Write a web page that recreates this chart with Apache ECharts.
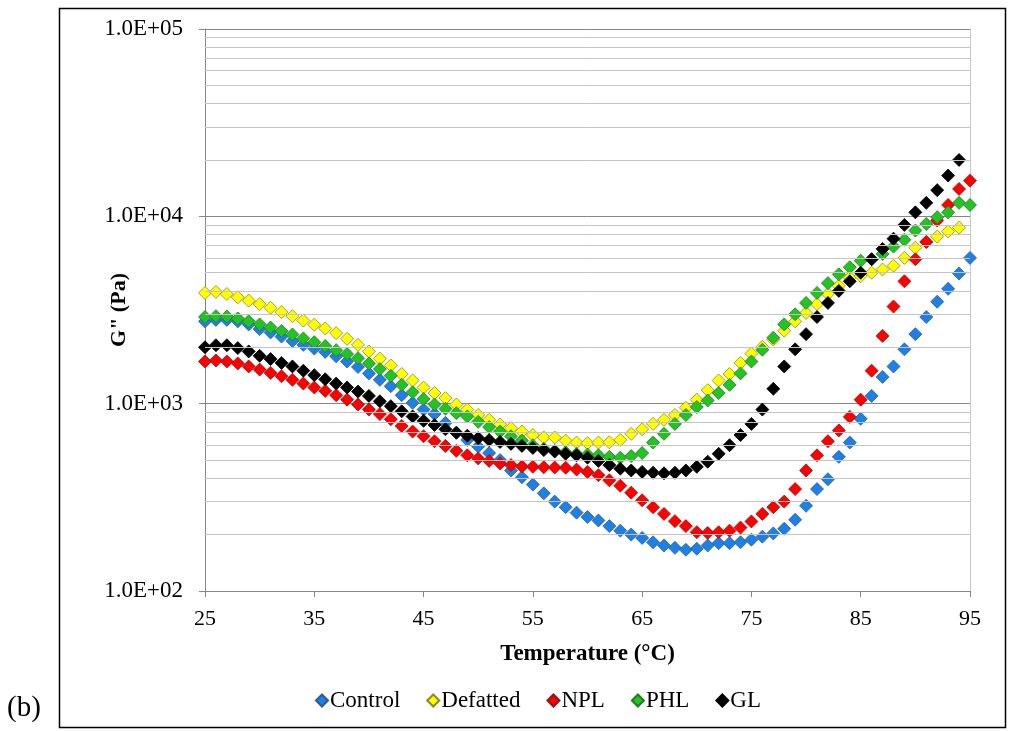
<!DOCTYPE html>
<html>
<head>
<meta charset="utf-8">
<script src="https://cdn.jsdelivr.net/npm/echarts@6/dist/echarts.min.js"></script>
<style>
html,body{margin:0;padding:0;background:#fff;}
#c{width:1009px;height:731px;}
</style>
</head>
<body>
<div id="c"></div>
<script>
// Temperature (°C) sample points shared by all series
const temps = [25,26,27,28,29,30,31,32,33,34,35,36,37,38,39,40,41,42,43,44,45,46,47,48,49,50,51,52,53,54,55,56,57,58,59,60,61,62,63,64,65,66,67,68,69,70,71,72,73,74,75,76,77,78,79,80,81,82,83,84,85,86,87,88,89,90,91,92,93,94,95];

const control = [2750,2800,2800,2750,2650,2500,2400,2280,2160,2060,1970,1890,1790,1680,1570,1450,1340,1240,1110,1010,930,880,790,700,640,590,545,500,440,405,370,332,300,280,262,248,238,222,210,200,192,182,175,170,166,168,175,180,180,182,188,195,203,215,240,285,350,395,520,620,830,1100,1390,1580,1950,2350,2900,3500,4100,4950,6000];

const defatted = [3900,3950,3850,3700,3550,3400,3250,3080,2930,2780,2640,2520,2380,2220,2060,1900,1740,1600,1440,1330,1220,1140,1070,990,930,870,820,775,740,710,680,660,660,635,620,615,620,622,640,690,730,780,820,870,950,1050,1180,1330,1440,1650,1850,2010,2200,2450,2750,3050,3400,3850,4250,4700,4800,5000,5200,5450,6000,6800,7300,7800,8300,8700,null];

const npl = [1680,1700,1680,1640,1580,1520,1460,1400,1340,1280,1220,1170,1110,1050,990,930,880,825,760,710,670,630,595,560,530,510,495,480,470,462,460,458,456,455,445,432,415,390,365,335,305,280,258,236,222,206,204,206,210,218,235,258,280,300,350,440,530,630,720,850,1050,1500,2300,3300,4500,5900,7300,9500,11500,14000,15500];

const phl = [2900,2930,2920,2850,2750,2650,2550,2440,2340,2230,2130,2030,1930,1840,1750,1640,1530,1410,1260,1150,1060,990,940,890,855,800,750,710,670,635,600,575,560,550,540,535,530,520,515,525,545,620,690,780,870,960,1040,1140,1260,1450,1680,1940,2250,2650,3000,3450,3900,4400,4900,5350,5800,5900,6300,6900,7500,8400,9100,9900,10500,11800,11500];

const gl = [2000,2050,2050,1980,1900,1800,1730,1650,1580,1500,1420,1350,1280,1220,1160,1100,1030,970,910,855,810,770,730,700,675,655,640,625,610,595,580,565,555,540,530,515,495,470,450,440,432,428,425,428,440,460,490,540,600,680,780,930,1200,1580,1950,2350,2900,3450,4000,4500,5000,5900,6700,7600,9000,10500,11800,13800,16500,20000,null];

const seriesNames = ['Control','Defatted','NPL','PHL','GL'];
const seriesValues = [control, defatted, npl, phl, gl];
const fillColors = ['#1E7FE6','#FFFF00','#FF0000','#22C322','#000000'];
const edgeColors = ['#2a5d95','#8a8a20','#9a1010','#237a23','#000000'];

const xTicks = {min:25, max:95, interval:10};
const yRange = {min:100, max:100000};

// minor gridline values (2..9 x each decade)
const minorGrid = [];
for (let d = 100; d < 100000; d *= 10) {
  for (let k = 2; k <= 9; k++) minorGrid.push(k * d);
}

const serif = '"Liberation Serif","Times New Roman",serif';

function fmtY(v) {
  const e = Math.round(Math.log10(v));
  return '1.0E+' + (e < 10 ? '0' : '') + e;
}

const series = seriesNames.map((n, i) => ({
  name: n,
  type: 'scatter',
  symbol: 'diamond',
  symbolSize: [13, 13],
  itemStyle: {color: fillColors[i], borderColor: edgeColors[i], borderWidth: 0.8, opacity: 1},
  data: temps.map((t, j) => [t, seriesValues[i][j]]).filter(p => p[1] != null),
  z: 3
}));

series.unshift({
  name: '_grid',
  type: 'line',
  data: [],
  silent: true,
  z: 1,
  markLine: {
    silent: true,
    symbol: 'none',
    label: {show: false},
    lineStyle: {color: '#c4c4c4', width: 1, type: 'solid'},
    data: minorGrid.map(v => ({yAxis: v}))
  }
});

const chart = echarts.init(document.getElementById('c'), null, {renderer: 'canvas'});
chart.setOption({
  animation: false,
  backgroundColor: '#fff',
  grid: {left: 205, top: 29, width: 765, height: 562, containLabel: false},
  legend: {
    data: seriesNames.map(n => ({name: n, icon: 'diamond', itemStyle: {opacity: 1}})),
    left: 310,
    top: 684,
    itemWidth: 12,
    itemHeight: 12,
    itemGap: 26,
    textStyle: {fontFamily: serif, fontSize: 23, color: '#000', padding: [0, 0, 0, -3]}
  },
  xAxis: {
    type: 'value',
    min: xTicks.min, max: xTicks.max, interval: xTicks.interval,
    name: 'Temperature (°C)',
    nameLocation: 'middle',
    nameGap: 52,
    nameTextStyle: {fontFamily: serif, fontSize: 23, fontWeight: 'bold', color: '#000'},
    axisLine: {show: true, lineStyle: {color: '#868686', width: 1}},
    axisTick: {show: true, inside: false, length: 6, lineStyle: {color: '#868686'}},
    axisLabel: {fontFamily: serif, fontSize: 22, color: '#000', margin: 17},
    splitLine: {show: false}
  },
  yAxis: [{
    type: 'log',
    logBase: 10,
    min: yRange.min, max: yRange.max,
    name: 'G" (Pa)',
    nameLocation: 'middle',
    nameGap: 75,
    nameRotate: 90,
    nameMoveOverlap: false,
    nameTextStyle: {fontFamily: serif, fontSize: 22, fontWeight: 'bold', color: '#000'},
    axisLine: {show: true, lineStyle: {color: '#868686', width: 1}},
    axisTick: {show: true, inside: false, length: 6, lineStyle: {color: '#868686'}},
    axisLabel: {fontFamily: serif, fontSize: 23, color: '#000', margin: 22, formatter: fmtY},
    splitLine: {show: true, lineStyle: {color: '#868686', width: 1}},
    minorTick: {show: false},
    minorSplitLine: {show: false}
  }, {
    type: 'log',
    logBase: 10,
    min: yRange.min, max: yRange.max,
    position: 'right',
    axisLine: {show: true, lineStyle: {color: '#c8c8c8', width: 1}},
    axisTick: {show: false},
    axisLabel: {show: false},
    splitLine: {show: false}
  }],
  graphic: [
    {type: 'rect', left: 57, top: 6, shape: {width: 946, height: 719}, style: {fill: 'none', stroke: '#000', lineWidth: 1.5}, silent: true},
    {type: 'text', left: 7, top: 694, style: {text: '(b)', font: '29px ' + serif, fill: '#000'}}
  ],
  series: series
});
</script>
</body>
</html>
